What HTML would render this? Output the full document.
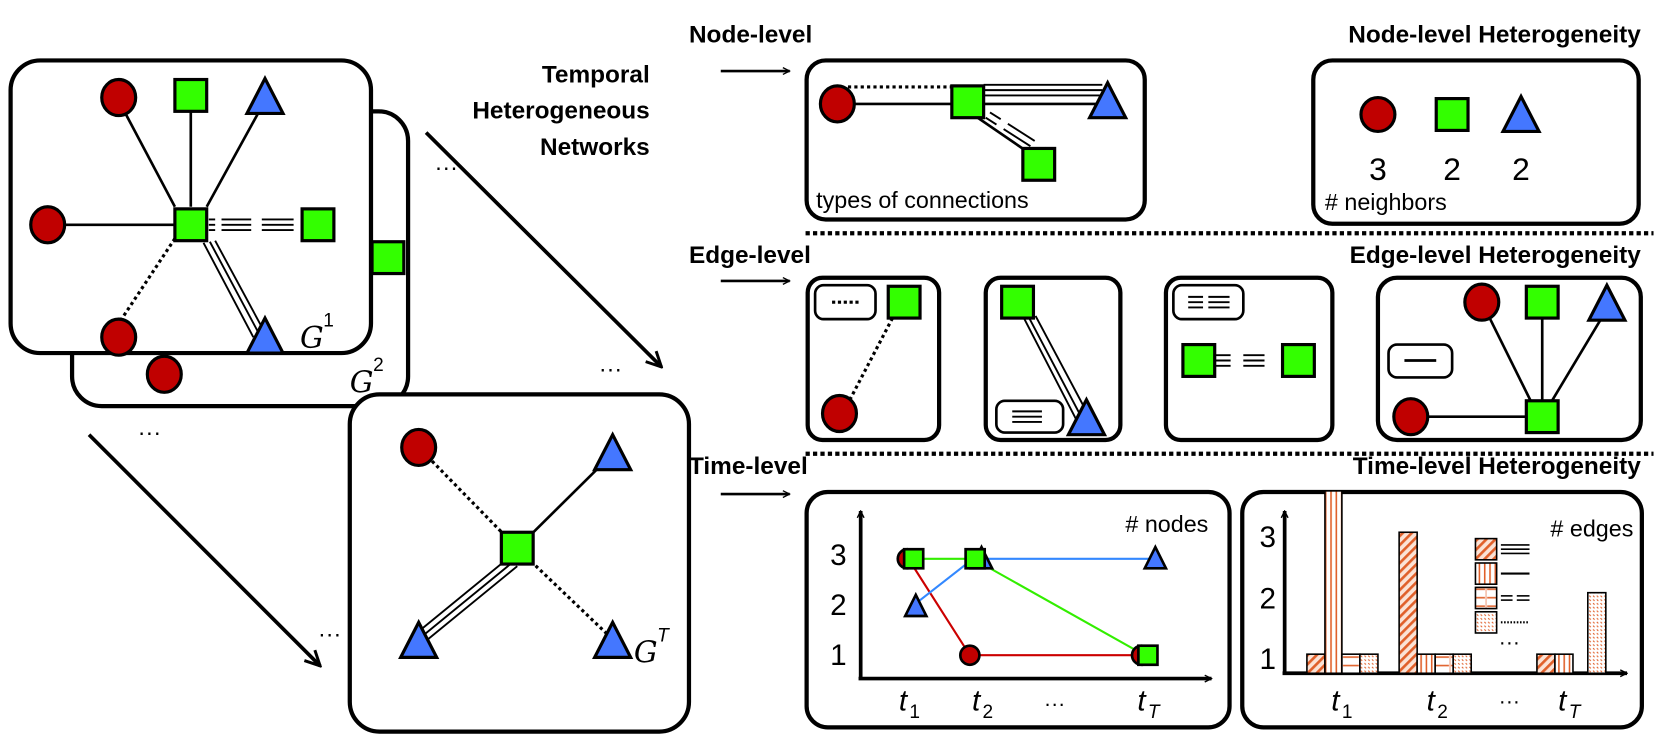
<!DOCTYPE html>
<html><head><meta charset="utf-8"><style>
html,body{margin:0;padding:0;background:#fff;}
svg{display:block;}
text{font-family:"Liberation Sans","DejaVu Sans",sans-serif;}
.b{font-weight:bold;font-size:23px;}
.g{font-family:"DejaVu Serif","Liberation Serif",serif;font-style:italic;font-size:28px;}
</style></head><body>
<svg width="1662" height="739" viewBox="0 0 1568 697" preserveAspectRatio="none" xmlns="http://www.w3.org/2000/svg">
<defs>
<marker id="ar" viewBox="0 0 10 10" refX="9" refY="5" markerWidth="5" markerHeight="5" orient="auto" markerUnits="strokeWidth"><path d="M1,1 L9,5 L1,9" fill="none" stroke="#000" stroke-width="1.6"/></marker>
<marker id="ar2" viewBox="0 0 10 10" refX="9" refY="5" markerWidth="8" markerHeight="8" orient="auto" markerUnits="userSpaceOnUse"><path d="M1,1 L9,5 L1,9" fill="none" stroke="#000" stroke-width="1.6"/></marker>
<pattern id="pd" width="6" height="6" patternUnits="userSpaceOnUse" patternTransform="rotate(45)"><rect width="6" height="6" fill="#fbe3d6"/><rect width="2.5" height="6" fill="#e0602a"/></pattern>
<pattern id="pv" width="5" height="5" patternUnits="userSpaceOnUse"><rect width="5" height="5" fill="#fff"/><rect width="1.5" height="5" fill="#e0602a"/></pattern>
<pattern id="ph" width="17" height="8" patternUnits="userSpaceOnUse"><rect width="17" height="8" fill="#fff"/><rect y="3" width="7" height="1.5" fill="#e0602a"/><rect x="9" y="3" width="8" height="1.5" fill="#e0602a"/><rect x="7.5" width="1" height="8" fill="#f0a080"/></pattern>
<pattern id="pt" width="5" height="5" patternUnits="userSpaceOnUse" patternTransform="rotate(-45)"><rect width="5" height="5" fill="#fff"/><rect width="1" height="2" fill="#e0602a"/><rect x="2.5" y="2.5" width="1" height="2" fill="#e0602a"/></pattern>
<g id="c"><ellipse cx="0" cy="0" rx="16" ry="17" fill="#c00000" stroke="#000" stroke-width="3"/></g>
<g id="s"><rect x="-15" y="-15" width="30" height="30" fill="#33ff00" stroke="#000" stroke-width="3"/></g>
<g id="t"><polygon points="0,-18 17,15 -17,15" fill="#4477ff" stroke="#000" stroke-width="3" stroke-linejoin="miter"/></g>
<g id="cs"><circle r="9" fill="#c00000" stroke="#000" stroke-width="2.5"/></g>
<g id="ss"><rect x="-9" y="-9" width="18" height="18" fill="#33ff00" stroke="#000" stroke-width="2.5"/></g>
<g id="ts"><polygon points="0,-11 10,9 -10,9" fill="#4477ff" stroke="#000" stroke-width="2.5"/></g>
</defs>

<!-- G2 -->
<rect x="68" y="105" width="317" height="278" rx="28" fill="#fff" stroke="#000" stroke-width="4"/>
<use href="#s" x="366" y="243"/>
<use href="#c" x="155" y="353"/>
<text x="330" y="370" class="g">G</text><text x="352" y="350" font-size="18" font-family="Liberation Serif,serif">2</text>
<!-- G1 -->
<rect x="10" y="57" width="340" height="276" rx="28" fill="#fff" stroke="#000" stroke-width="4"/>
<g stroke="#000" stroke-width="2.5">
<line x1="112" y1="95" x2="165" y2="195"/>
<line x1="180" y1="100" x2="180" y2="195"/>
<line x1="250" y1="95" x2="195" y2="195"/>
<line x1="45" y1="212" x2="165" y2="212"/>
<line x1="165" y1="225" x2="112" y2="305" stroke-dasharray="3,3" stroke-width="3"/>
</g>
<g stroke="#000" stroke-width="1.8" stroke-dasharray="0,2,6,6,28,10,30,100">
<line x1="195" y1="207" x2="285" y2="207"/>
<line x1="195" y1="212" x2="285" y2="212"/>
<line x1="195" y1="217" x2="285" y2="217"/>
</g>
<g stroke="#000" stroke-width="1.8">
<line x1="192" y1="229" x2="239" y2="318"/>
<line x1="198" y1="228" x2="245" y2="316"/>
<line x1="203" y1="227" x2="250" y2="314"/>
</g>
<use href="#c" x="112" y="92"/>
<use href="#s" x="180" y="90"/>
<use href="#t" x="250" y="92"/>
<use href="#c" x="45" y="212"/>
<use href="#s" x="180" y="212"/>
<use href="#s" x="300" y="212"/>
<use href="#c" x="112" y="318"/>
<use href="#t" x="250" y="318"/>
<text x="283" y="328" class="g">G</text><text x="305" y="308" font-size="18" font-family="Liberation Serif,serif">1</text>

<g class="b" text-anchor="end"><text x="613" y="78">Temporal</text><text x="613" y="112">Heterogeneous</text><text x="613" y="146">Networks</text></g>
<text x="410" y="165" font-size="22">···</text>
<text x="565" y="355" font-size="22">···</text>
<text x="130" y="415" font-size="22">···</text>
<text x="300" y="605" font-size="22">···</text>
<line x1="402" y1="125" x2="624" y2="346" stroke="#000" stroke-width="3.5" marker-end="url(#ar)"/>
<line x1="84" y1="410" x2="302" y2="628" stroke="#000" stroke-width="3.5" marker-end="url(#ar)"/>

<!-- GT -->
<rect x="330" y="372" width="320" height="318" rx="28" fill="#fff" stroke="#000" stroke-width="4"/>
<g stroke="#000">
<line x1="395" y1="422" x2="488" y2="517" stroke-width="3" stroke-dasharray="3,3"/>
<line x1="578" y1="428" x2="488" y2="517" stroke-width="2.5"/>
<line x1="488" y1="517" x2="578" y2="603" stroke-width="3" stroke-dasharray="3,3"/>
<line x1="480" y1="526" x2="392" y2="598" stroke-width="1.8"/>
<line x1="484" y1="530" x2="396" y2="602" stroke-width="1.8"/>
<line x1="488" y1="534" x2="400" y2="606" stroke-width="1.8"/>
</g>
<use href="#c" x="395" y="422"/>
<use href="#t" x="578" y="428"/>
<use href="#s" x="488" y="517"/>
<use href="#t" x="395" y="605"/>
<use href="#t" x="578" y="605"/>
<text x="598" y="625" class="g">G</text><text x="620" y="605" font-size="18" font-family="Liberation Serif,serif" font-style="italic">T</text>

<text x="650" y="40" class="b">Node-level</text>
<line x1="680" y1="67" x2="745" y2="67" stroke="#000" stroke-width="2.5" marker-end="url(#ar2)"/>
<text x="1548" y="40" class="b" text-anchor="end">Node-level Heterogeneity</text>
<text x="650" y="248" class="b">Edge-level</text>
<line x1="680" y1="265" x2="745" y2="265" stroke="#000" stroke-width="2.5" marker-end="url(#ar2)"/>
<text x="1548" y="248" class="b" text-anchor="end">Edge-level Heterogeneity</text>
<text x="650" y="447" class="b">Time-level</text>
<line x1="680" y1="466" x2="745" y2="466" stroke="#000" stroke-width="2.5" marker-end="url(#ar2)"/>
<text x="1548" y="447" class="b" text-anchor="end">Time-level Heterogeneity</text>
<line x1="760" y1="220" x2="1560" y2="220" stroke="#000" stroke-width="4" stroke-dasharray="4,3"/>
<line x1="760" y1="428" x2="1560" y2="428" stroke="#000" stroke-width="4" stroke-dasharray="4,3"/>

<!-- Node box -->
<rect x="761" y="57" width="319" height="150" rx="18" fill="#fff" stroke="#000" stroke-width="4"/>
<g stroke="#000">
<line x1="800" y1="82" x2="900" y2="82" stroke-width="3" stroke-dasharray="3,3"/>
<line x1="800" y1="98" x2="1040" y2="98" stroke-width="2.5"/>
<line x1="928" y1="80" x2="1040" y2="80" stroke-width="1.8"/>
<line x1="928" y1="85" x2="1040" y2="85" stroke-width="1.8"/>
<line x1="928" y1="90" x2="1040" y2="90" stroke-width="1.8"/>
<line x1="918" y1="108" x2="972" y2="145" stroke-width="2.5"/>
<line x1="930" y1="111" x2="988" y2="148" stroke-width="1.8" stroke-dasharray="12,8,30"/>
<line x1="934" y1="106" x2="992" y2="143" stroke-width="1.8" stroke-dasharray="12,8,30"/>
</g>
<use href="#c" x="790" y="98"/>
<use href="#s" x="913" y="96"/>
<use href="#t" x="1045" y="96"/>
<use href="#s" x="980" y="155"/>
<text x="770" y="196" font-size="22">types of connections</text>

<rect x="1239" y="57" width="307" height="154" rx="18" fill="#fff" stroke="#000" stroke-width="4"/>
<circle cx="1300" cy="108" r="16" fill="#c00000" stroke="#000" stroke-width="3"/>
<rect x="1355" y="93" width="30" height="30" fill="#33ff00" stroke="#000" stroke-width="3"/>
<polygon points="1435,91 1452,124 1418,124" fill="#4477ff" stroke="#000" stroke-width="3"/>
<g font-size="30" text-anchor="middle"><text x="1300" y="170">3</text><text x="1370" y="170">2</text><text x="1435" y="170">2</text></g>
<text x="1250" y="198" font-size="22"># neighbors</text>

<rect x="762" y="262" width="124" height="153" rx="14" fill="#fff" stroke="#000" stroke-width="4"/>
<rect x="769" y="269" width="57" height="32" rx="8" fill="#fff" stroke="#000" stroke-width="2.5"/>
<line x1="785" y1="285" x2="812" y2="285" stroke="#000" stroke-width="3" stroke-dasharray="3,2.5"/>
<line x1="842" y1="300" x2="795" y2="390" stroke="#000" stroke-width="3" stroke-dasharray="3,3"/>
<use href="#s" x="853" y="285"/>
<use href="#c" x="792" y="390"/>
<rect x="930" y="262" width="127" height="153" rx="14" fill="#fff" stroke="#000" stroke-width="4"/>
<g stroke="#000" stroke-width="1.8">
<line x1="966" y1="300" x2="1015" y2="395"/>
<line x1="971" y1="300" x2="1020" y2="393"/>
<line x1="977" y1="298" x2="1026" y2="390"/>
</g>
<use href="#s" x="960" y="285"/>
<use href="#t" x="1025" y="395"/>
<rect x="940" y="378" width="63" height="30" rx="8" fill="#fff" stroke="#000" stroke-width="2.5"/>
<g stroke="#000" stroke-width="1.8"><line x1="955" y1="388" x2="983" y2="388"/><line x1="955" y1="393" x2="983" y2="393"/><line x1="955" y1="398" x2="983" y2="398"/></g>
<rect x="1100" y="262" width="157" height="153" rx="14" fill="#fff" stroke="#000" stroke-width="4"/>
<rect x="1107" y="269" width="66" height="32" rx="8" fill="#fff" stroke="#000" stroke-width="2.5"/>
<g stroke="#000" stroke-width="1.8" stroke-dasharray="0,14,14,5,20,100">
<line x1="1107" y1="280" x2="1173" y2="280"/><line x1="1107" y1="285" x2="1173" y2="285"/><line x1="1107" y1="290" x2="1173" y2="290"/>
</g>
<g stroke="#000" stroke-width="1.8" stroke-dasharray="0,16,17,12,20,100">
<line x1="1128" y1="335" x2="1230" y2="335"/><line x1="1128" y1="340" x2="1230" y2="340"/><line x1="1128" y1="345" x2="1230" y2="345"/>
</g>
<use href="#s" x="1131" y="340"/>
<use href="#s" x="1225" y="340"/>
<rect x="1300" y="262" width="248" height="153" rx="18" fill="#fff" stroke="#000" stroke-width="4"/>
<g stroke="#000" stroke-width="2.5">
<line x1="1398" y1="285" x2="1450" y2="390"/>
<line x1="1455" y1="290" x2="1455" y2="390"/>
<line x1="1517" y1="290" x2="1460" y2="385"/>
<line x1="1330" y1="393" x2="1445" y2="393"/>
</g>
<use href="#c" x="1398" y="285"/>
<use href="#s" x="1455" y="285"/>
<use href="#t" x="1516" y="287"/>
<use href="#c" x="1331" y="393"/>
<use href="#s" x="1455" y="393"/>
<rect x="1310" y="325" width="60" height="31" rx="8" fill="#fff" stroke="#000" stroke-width="2.5"/>
<line x1="1325" y1="340" x2="1355" y2="340" stroke="#000" stroke-width="2.5"/>

<rect x="761" y="464" width="399" height="222" rx="20" fill="#fff" stroke="#000" stroke-width="4"/>
<line x1="812" y1="640" x2="812" y2="482" stroke="#000" stroke-width="3.5" marker-end="url(#ar2)"/>
<line x1="810" y1="640" x2="1143" y2="640" stroke="#000" stroke-width="3.5" marker-end="url(#ar2)"/>
<g font-family="Liberation Serif,serif" font-size="28" text-anchor="middle"><text x="791" y="533">3</text><text x="791" y="580">2</text><text x="791" y="627">1</text></g>
<g font-family="Liberation Serif,serif" font-size="28" font-style="italic"><text x="848" y="670">t</text><text x="917" y="670">t</text><text x="1073" y="670">t</text></g>
<g font-family="Liberation Serif,serif" font-size="18"><text x="858" y="677">1</text><text x="927" y="677">2</text><text x="1083" y="677" font-style="italic">T</text></g>
<text x="985" y="670" font-size="20">···</text>
<text x="1140" y="502" font-size="22" text-anchor="end"># nodes</text>
<g stroke-width="2">
<polyline points="857,527 915,618 1077,618" fill="none" stroke="#cc0000"/>
<polyline points="863,570 918,527 1090,527" fill="none" stroke="#3388ff"/>
<polyline points="862,527 918,527 1080,618" fill="none" stroke="#33ee00"/>
</g>
<use href="#cs" x="856" y="527"/><use href="#ss" x="862" y="527"/>
<use href="#ts" x="864" y="572"/>
<use href="#ts" x="926" y="527"/><use href="#ss" x="920" y="527"/>
<use href="#cs" x="915" y="618"/>
<use href="#ts" x="1090" y="527"/>
<use href="#cs" x="1077" y="618"/><use href="#ss" x="1083" y="618"/>

<rect x="1172" y="464" width="377" height="222" rx="20" fill="#fff" stroke="#000" stroke-width="4"/>
<line x1="1212" y1="635" x2="1212" y2="482" stroke="#000" stroke-width="3.5" marker-end="url(#ar2)"/>
<line x1="1210" y1="635" x2="1535" y2="635" stroke="#000" stroke-width="3.5" marker-end="url(#ar2)"/>
<g font-family="Liberation Serif,serif" font-size="28" text-anchor="middle"><text x="1196" y="516">3</text><text x="1196" y="574">2</text><text x="1196" y="631">1</text></g>
<g stroke="#000" stroke-width="1.5">
<rect x="1233" y="617" width="17" height="18" fill="url(#pd)"/>
<rect x="1250" y="463" width="16" height="172" fill="url(#pv)"/>
<rect x="1266" y="617" width="17" height="18" fill="url(#ph)"/>
<rect x="1283" y="617" width="17" height="18" fill="url(#pt)"/>
<rect x="1320" y="502" width="17" height="133" fill="url(#pd)"/>
<rect x="1337" y="617" width="17" height="18" fill="url(#pv)"/>
<rect x="1354" y="617" width="17" height="18" fill="url(#ph)"/>
<rect x="1371" y="617" width="17" height="18" fill="url(#pt)"/>
<rect x="1450" y="617" width="17" height="18" fill="url(#pd)"/>
<rect x="1467" y="617" width="17" height="18" fill="url(#pv)"/>
<rect x="1498" y="559" width="17" height="76" fill="url(#pt)"/>
<rect x="1392" y="508" width="20" height="20" fill="url(#pd)"/>
<rect x="1392" y="531" width="20" height="20" fill="url(#pv)"/>
<rect x="1392" y="554" width="20" height="20" fill="url(#ph)"/>
<rect x="1392" y="577" width="20" height="20" fill="url(#pt)"/>
</g>
<g stroke="#000" stroke-width="1.5">
<line x1="1416" y1="514" x2="1443" y2="514"/><line x1="1416" y1="518" x2="1443" y2="518"/><line x1="1416" y1="522" x2="1443" y2="522"/>
<line x1="1416" y1="541" x2="1443" y2="541" stroke-width="2"/>
<line x1="1416" y1="562" x2="1427" y2="562"/><line x1="1416" y1="566" x2="1427" y2="566"/>
<line x1="1431" y1="562" x2="1443" y2="562"/><line x1="1431" y1="566" x2="1443" y2="566"/>
<line x1="1416" y1="587" x2="1443" y2="587" stroke-width="2" stroke-dasharray="1.5,1.5"/>
</g>
<text x="1541" y="506" font-size="22" text-anchor="end"># edges</text>
<text x="1414" y="612" font-size="20">···</text>
<text x="1414" y="668" font-size="20">···</text>
<g font-family="Liberation Serif,serif" font-size="28" font-style="italic"><text x="1256" y="670">t</text><text x="1346" y="670">t</text><text x="1470" y="670">t</text></g>
<g font-family="Liberation Serif,serif" font-size="18"><text x="1266" y="677">1</text><text x="1356" y="677">2</text><text x="1480" y="677" font-style="italic">T</text></g>
</svg>
</body></html>
